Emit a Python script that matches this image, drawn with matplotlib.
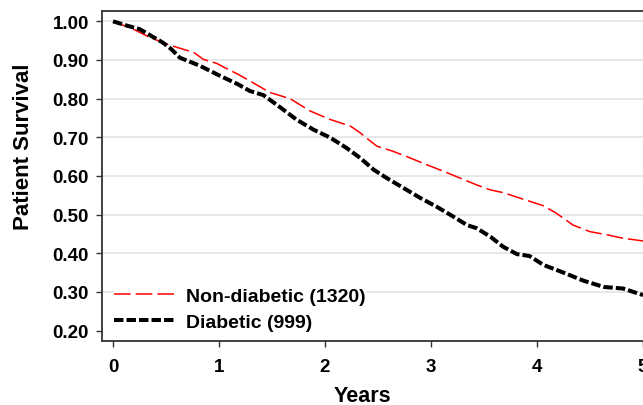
import matplotlib
matplotlib.use("Agg")
import matplotlib.pyplot as plt

# Kaplan-Meier patient survival by diabetic status
nondiab_years = [0.00, 0.19, 0.35, 0.54, 0.66, 0.76, 0.85, 0.98, 1.07, 1.18, 1.29,
                 1.48, 1.67, 1.86, 2.05, 2.24, 2.33, 2.41, 2.49, 2.64, 2.80, 2.96,
                 3.12, 3.27, 3.43, 3.56, 3.68, 3.87, 4.06, 4.18, 4.34, 4.50, 4.66,
                 4.81, 5.00]
nondiab_surv = [1.000, 0.980, 0.958, 0.938, 0.928, 0.920, 0.902, 0.891, 0.878, 0.863, 0.846,
                0.816, 0.800, 0.768, 0.746, 0.729, 0.712, 0.694, 0.677, 0.664, 0.647, 0.629,
                0.612, 0.595, 0.577, 0.564, 0.557, 0.540, 0.523, 0.504, 0.473, 0.456, 0.448,
                0.439, 0.432]

diab_years = [0.00, 0.13, 0.25, 0.35, 0.47, 0.55, 0.63, 0.82, 1.01, 1.18, 1.29,
              1.42, 1.58, 1.73, 1.89, 2.05, 2.20, 2.33, 2.46, 2.58, 2.74, 2.90,
              3.05, 3.21, 3.34, 3.43, 3.56, 3.68, 3.81, 3.93, 4.06, 4.25, 4.44,
              4.63, 4.81, 5.00]
diab_surv = [1.000, 0.989, 0.980, 0.964, 0.945, 0.928, 0.906, 0.885, 0.859, 0.837, 0.820,
             0.809, 0.777, 0.746, 0.720, 0.699, 0.673, 0.647, 0.616, 0.595, 0.569, 0.543,
             0.521, 0.495, 0.473, 0.465, 0.443, 0.417, 0.398, 0.393, 0.370, 0.350, 0.329,
             0.313, 0.309, 0.292]

labels = ["Non-diabetic (1320)", "Diabetic (999)"]
x_ticks = [0, 1, 2, 3, 4, 5]
y_ticks = [0.20, 0.30, 0.40, 0.50, 0.60, 0.70, 0.80, 0.90, 1.00]
grid_levels = [0.30, 0.40, 0.50, 0.60, 0.70, 0.80, 0.90, 1.00]

plt.rcParams["font.family"] = ["Liberation Sans", "DejaVu Sans"]
plt.rcParams["font.weight"] = "bold"
plt.rcParams["lines.scale_dashes"] = False

fig = plt.figure(figsize=(6.43, 4.06), dpi=100)
ax = fig.add_axes([102 / 643, 64.3 / 406, 558 / 643, 330 / 406])

for g in grid_levels:
    ax.axhline(g, color="#e0e0e0", lw=1.1, zorder=0)

ax.plot(nondiab_years, nondiab_surv, color="#ff0000", lw=1.1,
        dashes=(12, 3.6), label=labels[0], zorder=3)
ax.plot(diab_years, diab_surv, color="black", lw=2.9,
        dashes=(6.8, 2.2), label=labels[1], zorder=4)

ax.set_xlim(-0.104, 5.16)
ax.set_ylim(0.174, 1.0275)
ax.set_xticks(x_ticks)
ax.set_yticks(y_ticks)
ax.set_yticklabels([f"{v:.2f}" for v in y_ticks])
ax.tick_params(axis="both", labelsize=13.5, colors="#333333", labelcolor="black",
               length=4.3, width=1.0)
ax.tick_params(axis="x", pad=8)
ax.tick_params(axis="y", pad=5)
for lbl in ax.get_xticklabels() + ax.get_yticklabels():
    lbl.set_fontweight("bold")

for side in ["left", "bottom", "top"]:
    ax.spines[side].set_color("#333333")
    ax.spines[side].set_linewidth(1.3)
ax.spines["right"].set_visible(False)

ax.set_xlabel("Years", fontsize=15.5, fontweight="bold")
ax.set_ylabel("Patient Survival", fontsize=16, fontweight="bold")
ax.xaxis.set_label_coords((362 - 102) / 558, -(386 - 341.7) / 330)
ax.yaxis.set_label_coords(-(102 - 34) / 558, (341.7 - 147) / 330)

leg = ax.legend(loc="lower left", bbox_to_anchor=((114 - 102) / 558, (341.7 - 332) / 330),
                frameon=True, fancybox=False, borderpad=0.0, borderaxespad=0.0,
                handlelength=3.15, handletextpad=0.57, labelspacing=0.45,
                prop={"size": 14, "weight": "bold"})
leg.get_frame().set_facecolor("white")
leg.get_frame().set_edgecolor("none")
leg.get_frame().set_alpha(1.0)

fig.savefig("out.png", dpi=100)
